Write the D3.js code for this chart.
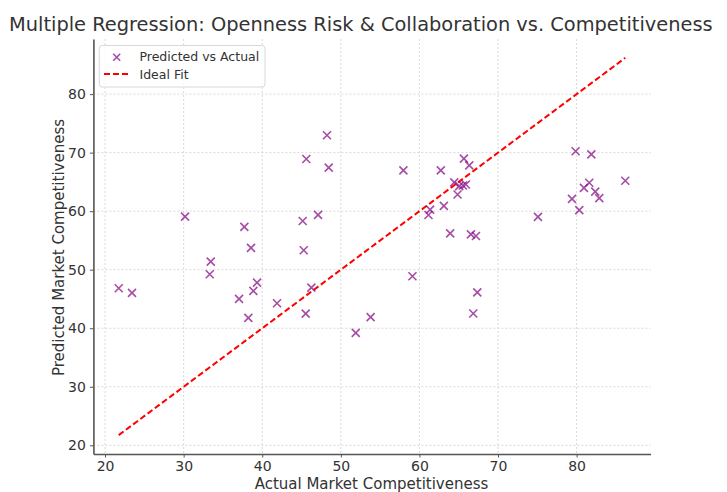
<!DOCTYPE html>
<html><head><meta charset="utf-8">
<script src="https://cdn.jsdelivr.net/npm/d3@7/dist/d3.min.js"></script>
<style>
html,body{margin:0;padding:0;background:#fff;overflow:hidden;}
text{font-family:"DejaVu Sans",sans-serif;}
</style></head>
<body><svg id="c" width="727" height="492"></svg>
<script>
const actual = [21.74,23.43,30.18,33.45,33.32,37.72,38.57,39.34,38.87,37.05,38.23,41.88,45.61,48.24,48.46,45.15,47.10,45.28,46.25,45.53,51.90,53.79,57.96,59.11,62.72,65.66,66.34,64.43,65.06,65.53,65.91,64.85,61.36,61.15,63.11,63.91,66.55,67.19,67.36,66.85,79.87,81.87,75.08,86.19,80.93,81.61,82.37,82.88,79.41,80.34];
const predicted = [46.84,46.04,59.07,51.38,49.23,57.31,53.72,47.80,46.38,45.01,41.77,44.28,68.92,72.97,67.44,58.33,59.36,53.33,46.94,42.50,39.21,41.90,66.97,48.88,66.97,68.97,67.82,64.91,64.28,64.39,64.56,62.84,60.27,59.35,60.90,56.20,56.03,55.75,46.13,42.52,70.23,69.71,59.03,65.20,63.98,64.85,63.33,62.22,62.11,60.18];
const xTicks = [20,30,40,50,60,70,80];
const yTicks = [20,30,40,50,60,70,80];
const title = "Multiple Regression: Openness Risk & Collaboration vs. Competitiveness";
const xLabel = "Actual Market Competitiveness";
const yLabel = "Predicted Market Competitiveness";
const legendLabels = ["Predicted vs Actual","Ideal Fit"];

const svg = d3.select("#c");
const L=93.4, R=650.6, T=39, B=454;
const lo = d3.min(actual), hi = d3.max(actual);
const pad = (hi-lo)*0.05;
const x = d3.scaleLinear().domain([lo-pad, hi+pad]).range([L,R]);
const y = d3.scaleLinear().domain([lo-pad, hi+pad]).range([B,T]);

// grid
const g = svg.append("g");
g.selectAll(".gx").data(xTicks).enter().append("line")
 .attr("x1",d=>x(d)).attr("x2",d=>x(d)).attr("y1",T).attr("y2",B)
 .attr("stroke","#cfcfcf").attr("stroke-width",0.8).attr("stroke-dasharray","2,2");
g.selectAll(".gy").data(yTicks).enter().append("line")
 .attr("y1",d=>y(d)).attr("y2",d=>y(d)).attr("x1",L).attr("x2",R)
 .attr("stroke","#cfcfcf").attr("stroke-width",0.8).attr("stroke-dasharray","2,2");

// axes
const xa = svg.append("g").attr("transform",`translate(0,${B})`)
 .call(d3.axisBottom(x).tickValues(xTicks).tickSize(3.5).tickPadding(4).tickSizeOuter(0));
const ya = svg.append("g").attr("transform",`translate(${L},0)`)
 .call(d3.axisLeft(y).tickValues(yTicks).tickSize(3.5).tickPadding(4).tickSizeOuter(0));
[xa,ya].forEach(a=>{
  a.select(".domain").attr("stroke","#555").attr("stroke-width",1.6);
  a.selectAll(".tick line").attr("stroke","#555").attr("stroke-width",1);
  a.selectAll(".tick text").attr("fill","#333").style("font-size","14px").style("font-family","DejaVu Sans");
});

// ideal fit line
svg.append("line")
 .attr("x1",x(lo)).attr("y1",y(lo)).attr("x2",x(hi)).attr("y2",y(hi))
 .attr("stroke","#ff0000").attr("stroke-width",2).attr("stroke-dasharray","6,3");

// points
const s=4;
const pts = svg.append("g");
actual.forEach((a,i)=>{
  const cx=x(a), cy=y(predicted[i]);
  pts.append("path").attr("d",`M${cx-s},${cy-s}L${cx+s},${cy+s}M${cx-s},${cy+s}L${cx+s},${cy-s}`)
   .attr("stroke","#800080").attr("stroke-opacity",0.7).attr("stroke-width",1.6).attr("fill","none");
});

// title & labels
svg.append("text").attr("x",9).attr("y",31).attr("text-anchor","start")
 .attr("fill","#333").style("font-size","19.4px").text(title);
svg.append("text").attr("x",(L+R)/2-0.5).attr("y",489).attr("text-anchor","middle")
 .attr("fill","#333").style("font-size","15px").text(xLabel);
svg.append("text").attr("transform",`translate(63.5,${(T+B)/2+1}) rotate(-90)`).attr("text-anchor","middle")
 .attr("fill","#333").style("font-size","15px").text(yLabel);

// legend
const lg = svg.append("g");
lg.append("rect").attr("x",99.3).attr("y",45.5).attr("width",165.7).attr("height",41.5).attr("rx",3)
 .attr("fill","#fff").attr("fill-opacity",0.8).attr("stroke","#d8d8d8").attr("stroke-width",1);
const mx=116.7, my=57.3;
lg.append("path").attr("d",`M${mx-3.5},${my-3.5}L${mx+3.5},${my+3.5}M${mx-3.5},${my+3.5}L${mx+3.5},${my-3.5}`)
 .attr("stroke","#800080").attr("stroke-opacity",0.7).attr("stroke-width",1.6);
lg.append("line").attr("x1",104).attr("x2",129).attr("y1",74).attr("y2",74)
 .attr("stroke","#ff0000").attr("stroke-width",2).attr("stroke-dasharray","6,3");
lg.selectAll(".lt").data(legendLabels).enter().append("text")
 .attr("x",139.5).attr("y",(d,i)=>60.5+i*18).attr("fill","#333").style("font-size","12.5px").text(d=>d);
</script></body></html>
